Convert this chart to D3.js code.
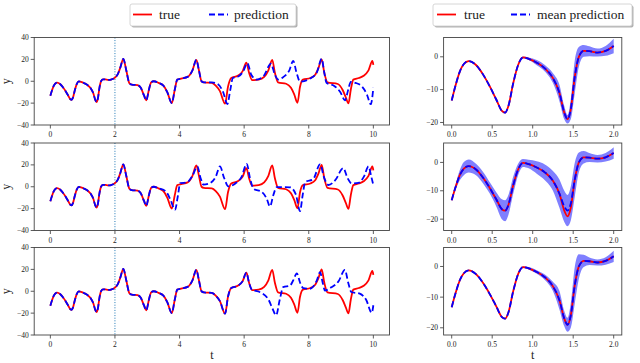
<!DOCTYPE html>
<html>
<head>
<meta charset="utf-8">
<script src="https://cdn.jsdelivr.net/npm/d3@7"></script>
<style>
  body { margin: 0; background: #fff; }
  svg { display: block; }
  text { font-family: "Liberation Serif", "DejaVu Serif", serif; fill: #222; }
</style>
</head>
<body>
<svg id="chart" width="640" height="363"></svg>
<script>
// Data
// true trajectory, [t, y]
var trueCurve = [[0.00,-13.3],[0.05,-8.5],[0.10,-4.5],[0.15,-2.2],[0.21,-1.3],[0.30,-2.5],[0.39,-5.5],[0.47,-9],[0.55,-13],[0.62,-16.5],[0.66,-17],[0.70,-15],[0.76,-8],[0.82,-2.5],[0.88,-0.2],[0.95,-0.6],[1.05,-1.8],[1.15,-3.5],[1.25,-6.5],[1.33,-11],[1.39,-17],[1.43,-19],[1.47,-16],[1.52,-6],[1.57,0],[1.63,1.8],[1.70,1.7],[1.80,1.3],[1.90,1.8],[2.00,3.3],
  [2.08,6],[2.16,12],[2.26,20.5],[2.35,10],[2.45,-2],[2.52,-3],[2.70,-3.5],[2.80,-6],[2.90,-13],[2.97,-17.4],[3.05,-8],[3.12,-1],[3.20,0],[3.35,-1.5],[3.50,-4],[3.62,-10],[3.76,-20],[3.85,-8],[3.93,1.5],[4.05,2.5],[4.25,4],[4.40,10],[4.52,19.5],[4.60,10],[4.68,0],[4.75,-1],
  [5.00,-1.5],[5.12,-4],[5.25,-9],[5.41,-20.5],[5.50,-5],[5.60,3],[5.80,5],[5.95,9],[6.07,17],[6.15,8],[6.25,1],[6.45,1.5],[6.62,4],[6.75,10],[6.87,19.5],[6.95,8],[7.05,-1],[7.30,-2.3],[7.45,-6],[7.55,-12],[7.65,-19.8],[7.73,-5],[7.82,1.5],
  [8.05,3],[8.20,6],[8.30,12],[8.40,20],[8.48,8],[8.58,-1],[8.90,-2.5],[9.05,-8],[9.15,-15],[9.23,-20.3],[9.30,-8],[9.38,1.5],[9.55,3],[9.70,5],[9.85,10],[9.97,18.5],[10.00,15]];

// where each prediction leaves the true curve, and what it does after
var branchT = [4.75, 3.35, 6.25];
var pred1Tail = [[5.00,-1],[5.20,-3],[5.35,-10],[5.48,-20.8],[5.57,-8],[5.65,3],[5.83,4.5],[5.97,9],[6.10,16.5],[6.22,6],[6.39,1.5],[6.60,4.6],[6.83,16],[6.95,6],[7.06,1.5],[7.22,4],[7.40,10],[7.52,18.7],[7.62,8],[7.73,-0.3],[8.03,2.2],[8.25,8],[8.40,20.5],[8.48,8],[8.55,-1.4],[8.80,-4.5],[8.98,-10],[9.12,-17.5],[9.22,-8],[9.30,-0.5],[9.45,-1.5],[9.64,-4.5],[9.80,-12],[9.92,-21],[10.00,-6]];
var pred2Tail = [[3.50,-2.7],[3.62,-6],[3.72,-12],[3.86,-21],[3.95,-8],[4.02,3.4],[4.22,3.8],[4.40,10],[4.55,18.6],[4.65,8],[4.74,1.9],[4.95,3.4],[5.12,9],[5.25,18.6],[5.38,8],[5.51,0.3],[5.72,2.8],[5.92,9],[6.08,21],[6.18,8],[6.29,-1.8],[6.55,-4.8],[6.70,-11],[6.80,-18],[6.90,-8],[7.01,-0.3],[7.42,-0.5],[7.60,-7],[7.73,-22.3],[7.81,-8],[7.89,4.3],[8.14,7],[8.35,20.5],[8.48,8],[8.61,1.6],[8.82,6],[9.07,17],[9.20,8],[9.33,3],[9.54,3.5],[9.72,10],[9.85,18.6],[9.93,10],[10.00,1.5]];
var pred3Tail = [[6.29,0.7],[6.55,-1.7],[6.76,-8],[6.88,-16],[6.99,-21.9],[7.10,-8],[7.21,3.8],[7.42,5.3],[7.52,10],[7.63,16.4],[7.73,8],[7.83,2.9],[8.04,2.3],[8.25,10],[8.35,17.4],[8.43,8],[8.50,0.7],[8.71,3.8],[8.92,9],[9.12,19.5],[9.22,8],[9.32,-0.7],[9.58,-2.2],[9.78,-8],[9.95,-19.7],[10.00,-12.8]];

// right column: mean prediction on [0,2] (panel 2 differs near the deep dip)
var mean2Dip = [[1.39,-15.5],[1.43,-17],[1.47,-14.5]];
// half width of the shaded band, one value per true-curve point with t <= 2
var band1 = [0.2,0.2,0.2,0.2,0.2,0.2,0.3,0.3,0.3,0.3,0.3,0.3,0.3,0.3,0.3,0.4,0.8,1.0,1.5,2.5,2.0,1.3,3.0,5.0,3.0,1.8,1.5,1.2,1.5,2.2];
var band2 = [0.3,1.0,1.8,2.3,2.3,2.0,2.0,2.0,2.5,3.5,3.7,3.5,3.0,2.0,1.4,1.5,2.2,2.8,3.5,5.0,5.5,5.5,6.0,6.0,3.5,2.2,1.6,1.3,1.5,2.0];
var band3 = [0.2,0.2,0.2,0.2,0.2,0.2,0.2,0.2,0.3,0.3,0.3,0.3,0.3,0.3,0.3,0.4,0.6,0.9,1.5,3.0,2.5,2.3,4.0,6.0,4.0,2.0,1.2,1.0,1.2,1.8];

var leftTicksX = [0, 2, 4, 6, 8, 10];
var leftTicksY = [40, 20, 0, -20, -40];
var rightTicksX = [0, 0.5, 1, 1.5, 2];
var rightTicksY = [0, -10, -20];
var rightDomY = [[-20.77, 5.88], [-24.0, 6.84], [-22.35, 6.19]];
var cutT = 2;

// layout
var rowTop = [37.5, 143, 247.5], rowH = 87.5;
var leftX = [34.2, 389.5], rightX = [443.6, 621.8];

var svg = d3.select("#chart");
var minus = function(v, f) { return (v < 0 ? "\u2212" : "") + (f ? d3.format(f)(Math.abs(v)) : String(Math.abs(v))); };

var headOf = function(t0) { return trueCurve.filter(function(d) { return d[0] <= t0; }); };
var preds = [headOf(branchT[0]).concat(pred1Tail), headOf(branchT[1]).concat(pred2Tail), headOf(branchT[2]).concat(pred3Tail)];
var shortTrue = trueCurve.filter(function(d) { return d[0] <= 2.0001; });
var mean2 = shortTrue.map(function(d) {
  var m = mean2Dip.find(function(e) { return e[0] === d[0]; });
  return m ? m : d;
});
var means = [shortTrue, mean2, shortTrue];
var bands = [band1, band2, band3];

function drawAxes(g, x, y, ticksX, ticksY, fx, fy) {
  var r = x.range(), yTop = y.range()[1], yBot = y.range()[0];
  ticksX.forEach(function(v) {
    g.append("line").attr("x1", x(v)).attr("x2", x(v)).attr("y1", yBot).attr("y2", yBot + 3.5)
      .attr("stroke", "#333").attr("stroke-width", 0.8);
    g.append("text").attr("x", x(v)).attr("y", yBot + 12).attr("text-anchor", "middle")
      .attr("font-size", 7.5).text(minus(v, fx));
  });
  ticksY.forEach(function(v) {
    g.append("line").attr("x1", r[0] - 3.5).attr("x2", r[0]).attr("y1", y(v)).attr("y2", y(v))
      .attr("stroke", "#333").attr("stroke-width", 0.8);
    g.append("text").attr("x", r[0] - 5.5).attr("y", y(v) + 2.6).attr("text-anchor", "end")
      .attr("font-size", 7.5).text(minus(v, fy));
  });
  g.append("rect").attr("x", r[0]).attr("y", yTop).attr("width", r[1] - r[0]).attr("height", yBot - yTop)
    .attr("fill", "none").attr("stroke", "#444").attr("stroke-width", 0.9);
}

var lineOf = function(x, y) {
  return d3.line().x(function(d) { return x(d[0]); }).y(function(d) { return y(d[1]); }).curve(d3.curveMonotoneX);
};

rowTop.forEach(function(rTop, i) {
  var rBot = rTop + rowH;

  // left column
  var x = d3.scaleLinear().domain([-0.5, 10.5]).range(leftX);
  var y = d3.scaleLinear().domain([-40, 40]).range([rBot, rTop]);
  var g = svg.append("g");
  var line = lineOf(x, y);
  g.append("line").attr("x1", x(cutT)).attr("x2", x(cutT)).attr("y1", rTop).attr("y2", rBot)
    .attr("stroke", "#1f77b4").attr("stroke-width", 1).attr("stroke-dasharray", "1,1.6");
  g.append("path").datum(trueCurve).attr("d", line).attr("fill", "none")
    .attr("stroke", "#ff0000").attr("stroke-width", 1.8);
  g.append("path").datum(preds[i]).attr("d", line).attr("fill", "none")
    .attr("stroke", "#0000ff").attr("stroke-width", 1.8).attr("stroke-dasharray", "6,3");
  drawAxes(g, x, y, leftTicksX, leftTicksY, null, null);
  g.append("text").attr("transform", "translate(10," + (rTop + rowH / 2) + ") rotate(-90)")
    .attr("text-anchor", "middle").attr("font-size", 12).text("y");

  // right column
  var xr = d3.scaleLinear().domain([-0.1, 2.1]).range(rightX);
  var yr = d3.scaleLinear().domain(rightDomY[i]).range([rBot, rTop]);
  var gr = svg.append("g");
  var hw = bands[i], mean = means[i];
  var area = d3.area().x(function(d) { return xr(d[0]); })
    .y0(function(d, k) { return yr(d[1] - hw[k]); })
    .y1(function(d, k) { return yr(d[1] + hw[k]); })
    .curve(d3.curveMonotoneX);
  gr.append("path").datum(mean).attr("d", area).attr("fill", "#0000ff").attr("fill-opacity", 0.5);
  var liner = lineOf(xr, yr);
  gr.append("path").datum(shortTrue).attr("d", liner).attr("fill", "none")
    .attr("stroke", "#ff0000").attr("stroke-width", 1.8);
  gr.append("path").datum(mean).attr("d", liner).attr("fill", "none")
    .attr("stroke", "#0000ff").attr("stroke-width", 1.8).attr("stroke-dasharray", "6,3");
  drawAxes(gr, xr, yr, rightTicksX, rightTicksY, ".1f", null);
});

// x labels
svg.append("text").attr("x", (leftX[0] + leftX[1]) / 2).attr("y", 359).attr("text-anchor", "middle")
  .attr("font-size", 12).text("t");
svg.append("text").attr("x", (rightX[0] + rightX[1]) / 2).attr("y", 359).attr("text-anchor", "middle")
  .attr("font-size", 12).text("t");

// legends
function legend(x0, w, items) {
  var g = svg.append("g");
  g.append("rect").attr("x", x0 + 1.5).attr("y", 5.5).attr("width", w).attr("height", 22).attr("rx", 2)
    .attr("fill", "#000").attr("fill-opacity", 0.3);
  g.append("rect").attr("x", x0).attr("y", 4).attr("width", w).attr("height", 22).attr("rx", 2)
    .attr("fill", "#fff").attr("stroke", "#ccc").attr("stroke-width", 0.8);
  items.forEach(function(it) {
    g.append("line").attr("x1", it.lx).attr("x2", it.lx + 19).attr("y1", 14.5).attr("y2", 14.5)
      .attr("stroke", it.color).attr("stroke-width", 1.8).attr("stroke-dasharray", it.dash || null);
    g.append("text").attr("x", it.tx).attr("y", 19).attr("font-size", 13.5).text(it.label);
  });
}
legend(130, 166, [
  {lx: 133, tx: 159, color: "#ff0000", label: "true"},
  {lx: 209, tx: 234, color: "#0000ff", dash: "6,3", label: "prediction"}
]);
legend(433, 199, [
  {lx: 437, tx: 464, color: "#ff0000", label: "true"},
  {lx: 511, tx: 537, color: "#0000ff", dash: "6,3", label: "mean prediction"}
]);
</script>
</body>
</html>
